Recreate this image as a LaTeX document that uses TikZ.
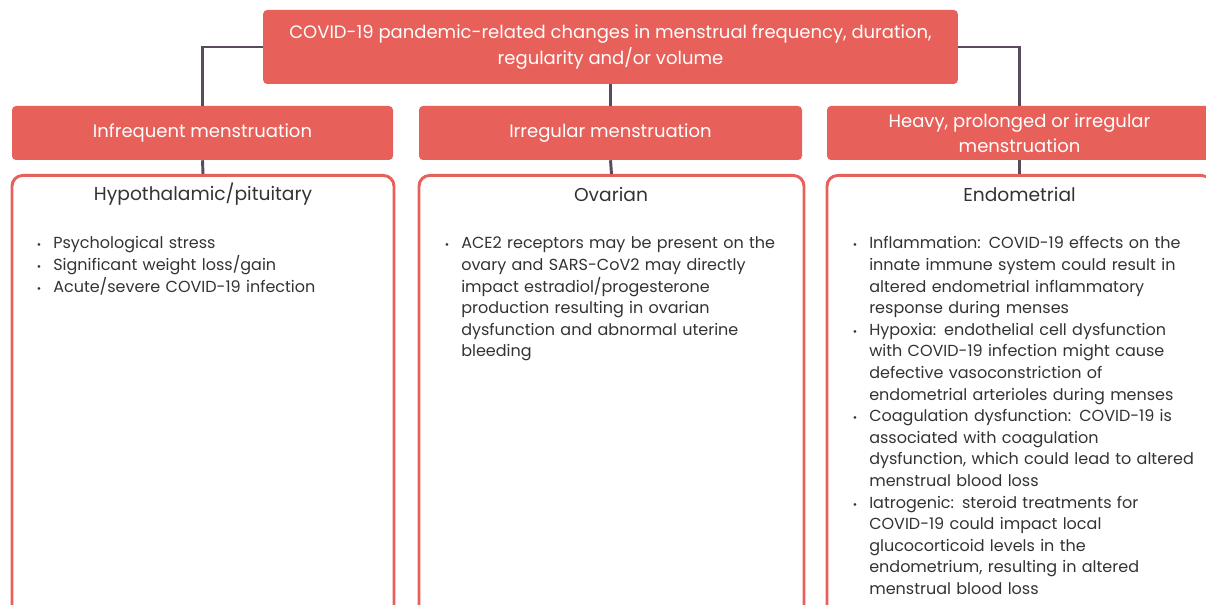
\documentclass[tikz,border=0pt]{standalone}
\usepackage{fontspec}
\setmainfont{Poppins}
\usepackage{enumitem}
\usetikzlibrary{positioning}

\definecolor{coral}{HTML}{E8605A}
\definecolor{stem}{HTML}{5A4A5E}
\definecolor{bodytext}{HTML}{333333}

\tikzset{
  topbox/.style={fill=coral, rounded corners=3pt, text=white, align=center,
    minimum width=521pt, minimum height=55.5pt, inner sep=0pt, font=\fontsize{13.5}{19.5}\selectfont},
  headbox/.style={fill=coral, rounded corners=3pt, text=white, align=center,
    minimum height=40.5pt, inner sep=0pt, font=\fontsize{13.5}{19}\selectfont},
  panelbox/.style={draw=coral, line width=2.2pt, rounded corners=8pt, fill=white,
    minimum height=340pt, inner sep=0pt},
  paneltitle/.style={text=bodytext, font=\fontsize{14}{18}\selectfont, inner sep=0pt},
  bullets/.style={text=bodytext, anchor=north west, inner sep=0pt, align=left,
    font=\fontsize{12}{16.2}\selectfont},
  stemline/.style={draw=stem, line width=2.2pt}
}
\setlist[itemize]{nosep, leftmargin=18.75pt, labelsep=9pt, label={\footnotesize\textbullet}}

\begin{document}
\begin{tikzpicture}[x=0.75pt, y=-0.75pt]
	    \useasboundingbox (0,0) rectangle (1206,605);
	    \clip (0,0) rectangle (1206,605);

	    % top box
	    \node[topbox] (covid) at (610.5,47) {COVID-19 pandemic-related changes in menstrual frequency, duration,\\regularity and/or volume};

	    % headers
	    \node[headbox, minimum width=285.75pt] (infreq) at (202.5,133) {Infrequent menstruation};
	    \node[headbox, minimum width=287.25pt] (irreg) at (610.5,133) {Irregular menstruation};
	    \node[headbox, minimum width=288.75pt] (heavy) at (1019.5,133) {Heavy, prolonged or irregular\\menstruation};

	    % panels
	    \node[panelbox, minimum width=286.5pt, anchor=north] (hypo) at (203,174) {};
	    \node[panelbox, minimum width=288.75pt, anchor=north] (ovar) at (611.5,174) {};
	    \node[panelbox, minimum width=288.75pt, anchor=north] (endo) at (1019.5,174) {};

	    % connectors
	    \draw[stemline] (covid.west) -| (infreq.north);
	    \draw[stemline] (covid.east) -| (heavy.north);
	    \draw[stemline] (covid.south) -- (irreg.north);
	    \draw[stemline] (infreq.south) -- (hypo.north);
	    \draw[stemline] (irreg.south) -- (ovar.north);
	    \draw[stemline] (heavy.south) -- (endo.north);

	    % panel titles
	    \node[paneltitle] (hypotitle) at (203,194) {Hypothalamic/pituitary};
	    \node[paneltitle] (ovartitle) at (611,194) {Ovarian};
	    \node[paneltitle] (endotitle) at (1019.5,194) {Endometrial};

	    % bullet lists
	    \node[bullets, text width=270pt] (hypolist) at (28,227) {\begin{itemize}
	        \item Psychological stress
	        \item Significant weight loss/gain
	        \item Acute/severe COVID-19 infection
	    \end{itemize}};
	    \node[bullets, text width=270pt] (ovarlist) at (436,227) {\begin{itemize}
	        \item ACE2 receptors may be present on the\\ovary and SARS-CoV2 may directly\\impact estradiol/progesterone\\production resulting in ovarian\\dysfunction and abnormal uterine\\bleeding
	    \end{itemize}};
	    \node[bullets, text width=270pt] (endolist) at (844,227) {\begin{itemize}
	        \item Inflammation: COVID-19 effects on the\\innate immune system could result in\\altered endometrial inflammatory\\response during menses
	        \item Hypoxia: endothelial cell dysfunction\\with COVID-19 infection might cause\\defective vasoconstriction of\\endometrial arterioles during menses
	        \item Coagulation dysfunction: COVID-19 is\\associated with coagulation\\dysfunction, which could lead to altered\\menstrual blood loss
	        \item Iatrogenic: steroid treatments for\\COVID-19 could impact local\\glucocorticoid levels in the\\endometrium, resulting in altered\\menstrual blood loss
	    \end{itemize}};
\end{tikzpicture}
\end{document}
